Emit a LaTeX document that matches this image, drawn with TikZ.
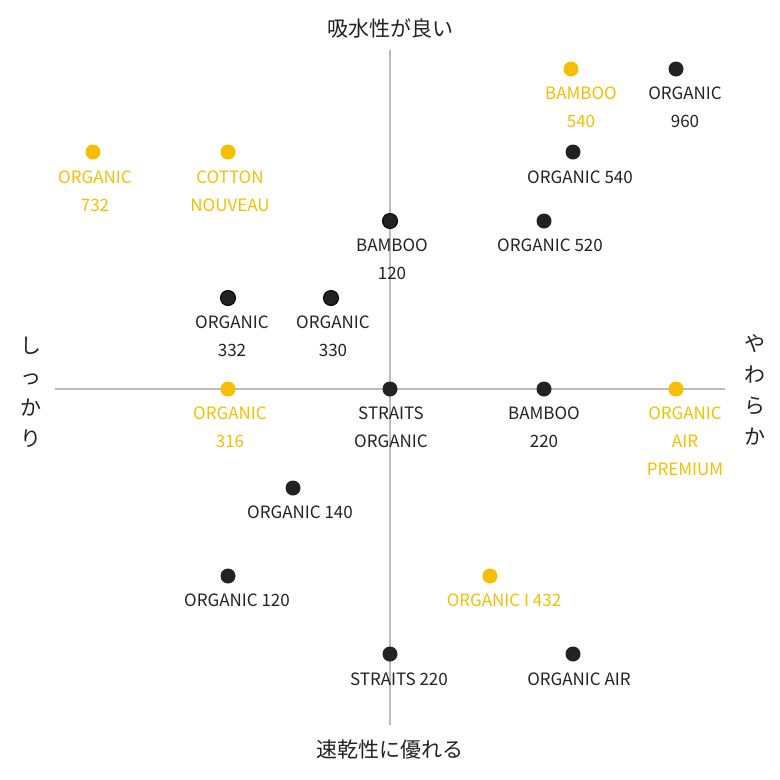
\documentclass[tikz,border=0pt]{standalone}
\usepackage{fontspec}
\setmainfont{Noto Sans CJK JP}
\definecolor{gold}{HTML}{F5BF00}
\definecolor{ink}{HTML}{222222}
\definecolor{axis}{HTML}{BBBBBB}
\tikzset{
  dot/.style={circle, fill=#1, inner sep=0pt, minimum size=15pt},
  lbl/.style={text=#1, font=\fontsize{17}{28}\selectfont, align=center, anchor=north, inner sep=0pt},
  axlbl/.style={text=ink, font=\fontsize{21}{30}\selectfont, inner sep=0pt},
}
\begin{document}
\begin{tikzpicture}[x=1pt, y=-1pt]
	\useasboundingbox (0,0) rectangle (780,780);
	\draw[axis, line width=2pt] (390,50) -- (390,725);
	\draw[axis, line width=2pt] (55,389) -- (725,389);
	\node[axlbl] (top)   at (390,28)  {吸水性が良い};
	\node[axlbl] (bot)   at (390,750) {速乾性に優れる};
	\node[axlbl, align=center, font=\fontsize{21}{31}\selectfont] (left)  at (31,392) {し\\っ\\か\\り};
	\node[axlbl, align=center, font=\fontsize{21}{31}\selectfont] (right) at (755,390) {や\\わ\\ら\\か};
	% points
	\node[dot=gold] (b540) at (571,69)  {}; \node[lbl=gold] at (581,87)  {BAMBOO\\540};
	\node[dot=ink]  (o960) at (676,69)  {}; \node[lbl=ink]  at (685,87)  {ORGANIC\\960};
	\node[dot=ink]  (o540) at (573,152) {}; \node[lbl=ink]  at (580,171) {ORGANIC 540};
	\node[dot=gold] (o732) at (93,152)  {}; \node[lbl=gold] at (95,171)  {ORGANIC\\732};
	\node[dot=gold] (cn)   at (228,152) {}; \node[lbl=gold] at (230,171) {COTTON\\NOUVEAU};
	\node[dot=ink, draw=black, line width=1pt] (b120) at (390,221) {}; \node[lbl=ink] at (392,239) {BAMBOO\\120};
	\node[dot=ink]  (o520) at (544,221) {}; \node[lbl=ink]  at (550,239) {ORGANIC 520};
	\node[dot=ink, draw=black, line width=1pt] (o332) at (228,298) {}; \node[lbl=ink] at (232,316) {ORGANIC\\332};
	\node[dot=ink, draw=black, line width=1pt] (o330) at (331,298) {}; \node[lbl=ink] at (333,316) {ORGANIC\\330};
	\node[dot=gold] (o316) at (228,389) {}; \node[lbl=gold] at (230,407) {ORGANIC\\316};
	\node[dot=ink]  (so)   at (390,389) {}; \node[lbl=ink]  at (391,407) {STRAITS\\ORGANIC};
	\node[dot=ink]  (b220) at (544,389) {}; \node[lbl=ink]  at (544,407) {BAMBOO\\220};
	\node[dot=gold] (oap)  at (676,389) {}; \node[lbl=gold] at (685,407) {ORGANIC\\AIR\\PREMIUM};
	\node[dot=ink]  (o140) at (293,488) {}; \node[lbl=ink]  at (300,506) {ORGANIC 140};
	\node[dot=ink]  (o120) at (228,576) {}; \node[lbl=ink]  at (237,594) {ORGANIC 120};
	\node[dot=gold] (oi432) at (490,576) {}; \node[lbl=gold] at (504,594) {ORGANIC I 432};
	\node[dot=ink]  (s220) at (390,654) {}; \node[lbl=ink]  at (399,673) {STRAITS 220};
	\node[dot=ink]  (oair) at (573,654) {}; \node[lbl=ink]  at (579,673) {ORGANIC AIR};
\end{tikzpicture}
\end{document}
